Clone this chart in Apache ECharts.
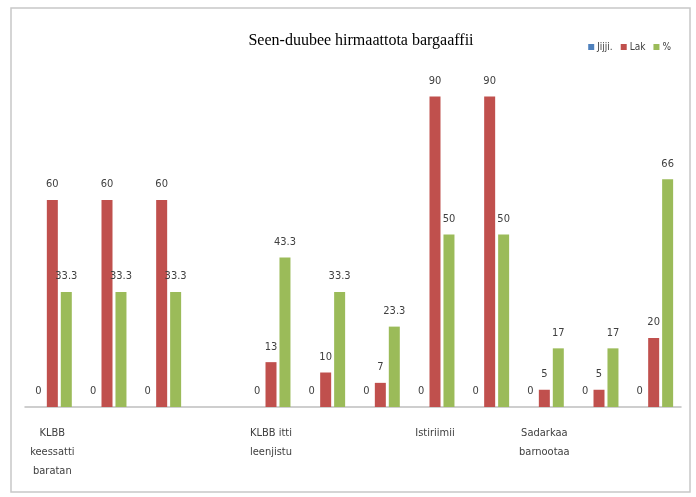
<!DOCTYPE html>
<html>
<head>
<meta charset="utf-8">
<script src="https://cdn.jsdelivr.net/npm/echarts@6/dist/echarts.min.js"></script>
<style>
html,body{margin:0;padding:0;background:#fff;}
#c{width:696px;height:497px;}
</style>
</head>
<body>
<div id="c"></div>
<script>
const categories = ['KLBB\nkeessatti\nbaratan', ' ', '  ', '   ', 'KLBB itti\nleenjistu', '    ', '     ', 'Istiriimii', '      ', 'Sadarkaa\nbarnootaa', '       ', '        '];
const jijji = [0, 0, 0, null, 0, 0, 0, 0, 0, 0, 0, 0];
const lak = [60, 60, 60, null, 13, 10, 7, 90, 90, 5, 5, 20];
const pct = [33.3, 33.3, 33.3, null, 43.3, 33.3, 23.3, 50, 50, 17, 17, 66];
const seriesNames = ['Jijji.', 'Lak', '%'];
const colors = ['#4F81BD', '#C0504D', '#9BBB59'];

const narrow = "'Liberation Sans Narrow', 'DejaVu Sans Condensed', sans-serif";
const chart = echarts.init(document.getElementById('c'));
const lbl = {show: true, position: 'top', distance: 10, color: '#404040', fontSize: 11, fontFamily: narrow};
chart.setOption({
  animation: false,
  graphic: [{type: 'rect', shape: {x: 11, y: 8, width: 679, height: 484}, style: {fill: 'none', stroke: '#c8c8c8', lineWidth: 1.5}}],
  title: {text: 'Seen-duubee hirmaattota bargaaffii', left: 356, textAlign: 'center', top: 28,
    textStyle: {fontFamily: "'Liberation Serif', serif", fontWeight: 'normal', fontSize: 16, color: '#000'}},
  legend: {right: 20, top: 37, itemWidth: 6, itemHeight: 6, itemGap: 8, icon: 'rect',
    textStyle: {fontFamily: narrow, fontSize: 10, color: '#404040', padding: [0, 0, 0, -2]}},
  grid: {left: 25, right: 15, top: 62, bottom: 90},
  xAxis: {type: 'category', data: categories,
    axisLine: {lineStyle: {color: '#bfbfbf', width: 1.5}}, axisTick: {show: false},
    axisLabel: {interval: 0, margin: 17, color: '#404040', fontSize: 11, lineHeight: 19, fontFamily: narrow}},
  yAxis: {type: 'value', min: 0, max: 100, show: false, splitLine: {show: false}},
  series: [
    {name: seriesNames[0], type: 'bar', data: jijji, barWidth: 11, barGap: '27%', itemStyle: {color: colors[0]}, label: lbl},
    {name: seriesNames[1], type: 'bar', data: lak, barWidth: 11, barGap: '27%', itemStyle: {color: colors[1]}, label: lbl},
    {name: seriesNames[2], type: 'bar', data: pct, barWidth: 11, barGap: '27%', itemStyle: {color: colors[2]}, label: lbl}
  ]
});
</script>
</body>
</html>
